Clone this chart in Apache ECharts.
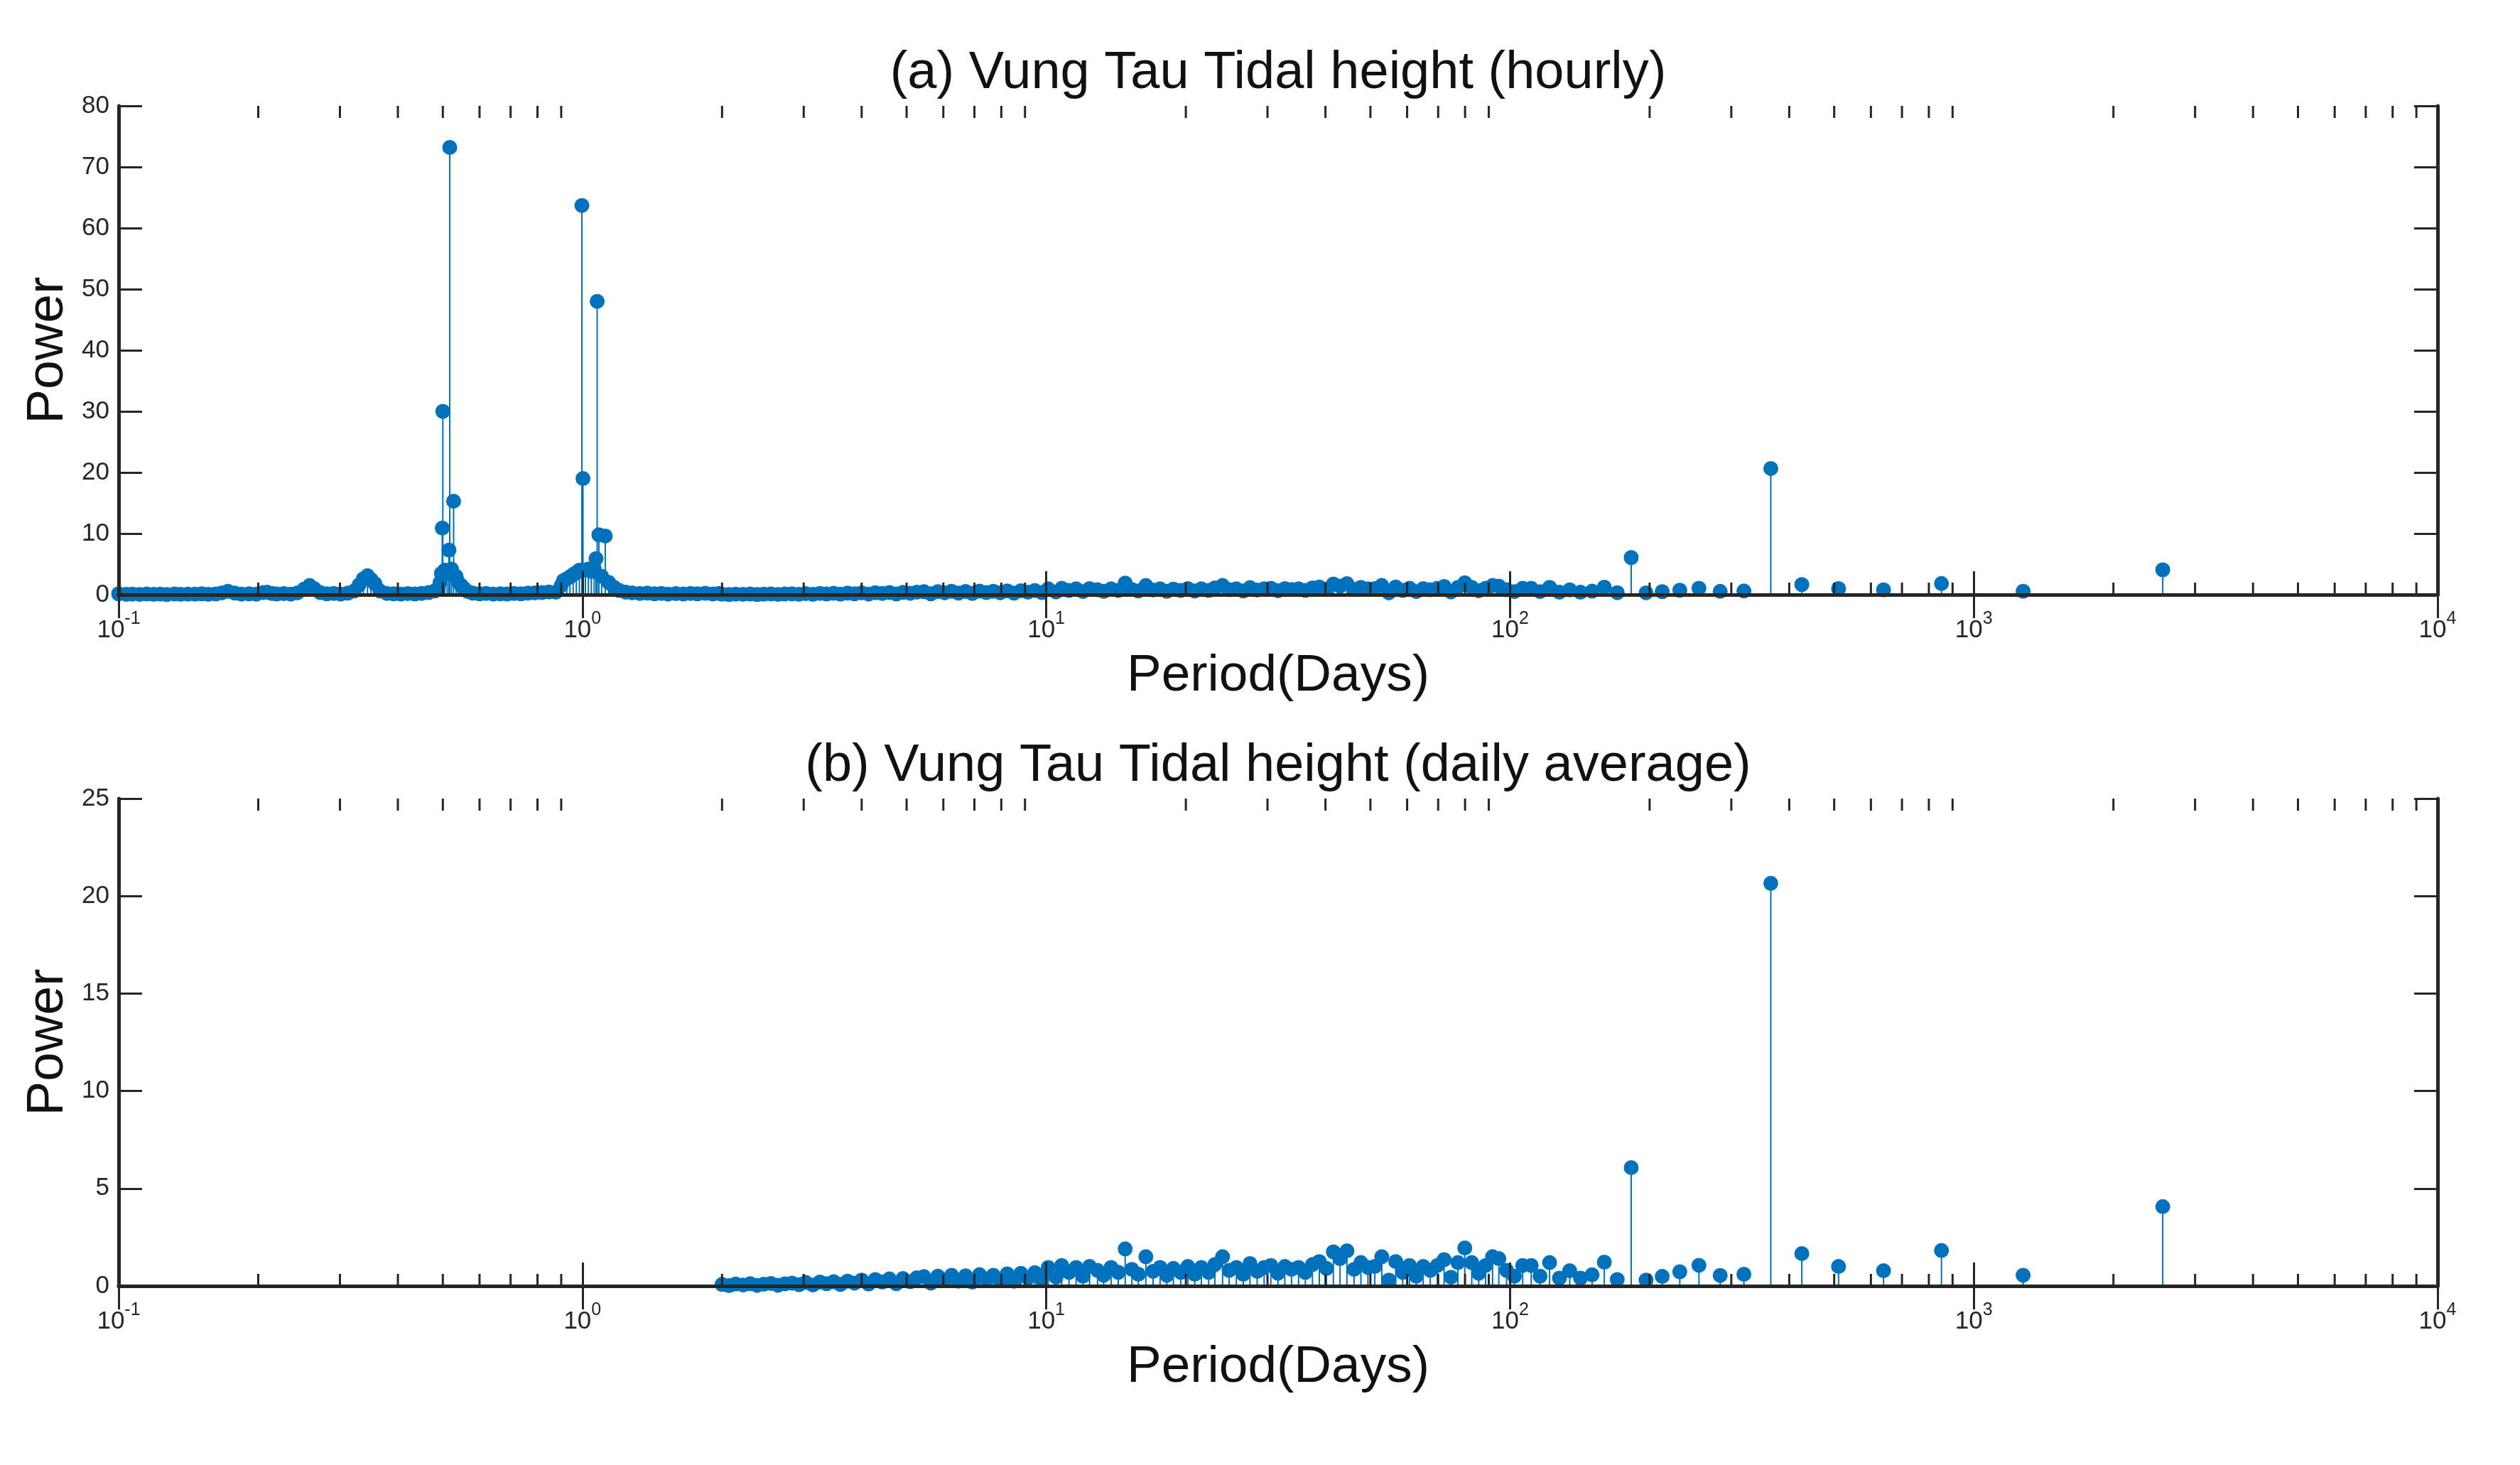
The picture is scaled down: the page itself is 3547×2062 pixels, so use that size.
<!DOCTYPE html>
<html>
<head>
<meta charset="utf-8">
<title>Vung Tau Tidal height periodogram</title>
<script src="https://cdn.jsdelivr.net/npm/echarts@6/dist/echarts.min.js"></script>
<style>
html, body { margin: 0; padding: 0; background: #fff; }
#chart { width: 3547px; height: 2062px; }
</style>
</head>
<body>
<div id="chart"></div>
<script>
// periods in days, power
// short periods, only in the hourly record
const hourlyPeriod = [
  0.100, 0.104, 0.107, 0.111, 0.115, 0.119, 0.123, 0.127, 0.132, 0.136,
  0.141, 0.146, 0.151, 0.156, 0.162, 0.167, 0.172, 0.178, 0.184, 0.191,
  0.198, 0.205, 0.209, 0.214, 0.219, 0.227, 0.235, 0.243, 0.251, 0.258,
  0.264, 0.272, 0.281, 0.291, 0.301, 0.312, 0.322, 0.330, 0.337, 0.344,
  0.350, 0.357, 0.366, 0.379, 0.392, 0.406, 0.420, 0.435, 0.450, 0.466,
  0.480, 0.489, 0.493, 0.4965, 0.4986, 0.500, 0.505, 0.511, 0.5155, 0.5175,
  0.522, 0.5275, 0.534, 0.540, 0.548, 0.556, 0.566, 0.580, 0.600, 0.620,
  0.642, 0.665, 0.688, 0.712, 0.737, 0.763, 0.790, 0.818, 0.846, 0.876,
  0.900, 0.910, 0.925, 0.940, 0.955, 0.970, 0.985, 0.9973, 1.0027, 1.015,
  1.030, 1.045, 1.060, 1.070, 1.0758, 1.085, 1.100, 1.120, 1.140, 1.170,
  1.200, 1.240, 1.280, 1.330, 1.380, 1.430, 1.480, 1.530, 1.590, 1.650,
  1.710, 1.770, 1.840, 1.910, 1.970
];
const hourlyPower = [
  0.15, 0.05, 0.10, 0.04, 0.12, 0.06, 0.10, 0.03, 0.12, 0.05,
  0.10, 0.08, 0.15, 0.05, 0.12, 0.30, 0.55, 0.25, 0.10, 0.15,
  0.08, 0.35, 0.40, 0.20, 0.12, 0.18, 0.10, 0.30, 0.90, 1.50,
  1.00, 0.35, 0.15, 0.20, 0.10, 0.25, 0.60, 1.60, 2.60, 3.10,
  2.50, 1.80, 0.60, 0.20, 0.15, 0.10, 0.18, 0.12, 0.20, 0.35,
  0.60, 1.00, 2.00, 3.50, 10.9, 30.0, 4.00, 3.50, 7.30, 73.2,
  4.20, 15.3, 3.00, 2.00, 1.50, 1.00, 0.50, 0.25, 0.15, 0.20,
  0.10, 0.15, 0.12, 0.20, 0.15, 0.25, 0.30, 0.35, 0.45, 0.40,
  1.50, 2.30, 2.60, 2.90, 3.30, 3.60, 4.00, 63.7, 19.0, 4.00,
  4.20, 3.80, 4.30, 5.90, 48.0, 9.80, 3.00, 9.60, 2.00, 1.20,
  0.70, 0.40, 0.30, 0.20, 0.25, 0.15, 0.20, 0.10, 0.18, 0.12,
  0.20, 0.15, 0.22, 0.12, 0.20
];

// 2 days and longer, same in both panels
const dailyPeriod = [
  2.00, 2.07, 2.14, 2.22, 2.30, 2.38, 2.46, 2.55, 2.64, 2.73, 2.83, 2.93,
  3.03, 3.14, 3.25, 3.36, 3.48, 3.60, 3.73, 3.86,
  4.00, 4.14, 4.28, 4.43, 4.59, 4.75, 4.91,
  5.09, 5.26, 5.45, 5.64, 5.84, 6.04, 6.25, 6.47,
  6.70, 6.93, 7.18, 7.43, 7.69,
  7.96, 8.24, 8.52, 8.82, 9.13, 9.45, 9.78,
  10.1, 10.5, 10.8, 11.2, 11.6, 12.0, 12.4, 12.9, 13.3, 13.8,
  14.3, 14.8, 15.3, 15.8, 16.4, 17.0, 17.6, 18.2, 18.8, 19.5, 20.2, 20.9,
  21.6, 22.4, 23.1, 24.0, 24.8, 25.7, 26.6, 27.5, 28.5, 29.5, 30.5, 31.6, 32.7, 33.8,
  35.0, 36.2, 37.5, 38.8, 40.2, 41.6, 43.0, 44.5, 46.1, 47.7, 49.4,
  51.1, 52.9, 54.8, 56.7, 58.7, 60.7, 62.8, 65.0,
  67.3, 69.7, 72.1, 74.6, 77.2, 79.9, 82.7, 85.6, 88.6, 91.7,
  94.6, 98.3, 102.2, 106.5, 111.1, 116.1, 121.7, 127.8, 134.5, 141.9,
  150.3, 159.7, 170.3, 182.5, 196.5, 212.9, 232.3, 255.5, 283.9, 319.4,
  365.0, 425.8, 511.0, 638.8, 851.7, 1277.5, 2555.0
];
const dailyPower = [
  0.08, 0.02, 0.10, 0.05, 0.12, 0.03, 0.09, 0.13, 0.04, 0.11, 0.15, 0.06,
  0.18, 0.05, 0.20, 0.12, 0.22, 0.08, 0.25, 0.15,
  0.30, 0.10, 0.33, 0.20, 0.36, 0.12, 0.38,
  0.22, 0.42, 0.48, 0.15, 0.50, 0.30, 0.55, 0.25,
  0.52, 0.20, 0.58, 0.35, 0.55,
  0.30, 0.62, 0.25, 0.65, 0.40, 0.68, 0.35,
  0.95, 0.45, 1.05, 0.70, 0.95, 0.50, 1.00, 0.80, 0.55, 0.95,
  0.70, 1.90, 0.85, 0.60, 1.50, 0.75, 0.95, 0.55, 0.90, 0.70, 1.00, 0.60,
  0.95, 0.70, 1.10, 1.50, 0.80, 0.95, 0.60, 1.15, 0.75, 0.95, 1.05, 0.65, 1.00, 0.85,
  0.95, 0.70, 1.10, 1.25, 0.90, 1.75, 1.40, 1.80, 0.85, 1.20, 0.95,
  1.00, 1.50, 0.30, 1.25, 0.70, 1.05, 0.50, 1.00,
  0.80, 1.05, 1.35, 0.45, 1.20, 1.95, 1.20, 0.65, 1.05, 1.50,
  1.40, 0.80, 0.50, 1.05, 1.05, 0.50, 1.20, 0.40, 0.78, 0.40,
  0.57, 1.22, 0.33, 6.07, 0.30, 0.49, 0.73, 1.06, 0.54, 0.60,
  20.65, 1.66, 1.00, 0.78, 1.82, 0.55, 4.07
];

const xTicks = [0.1, 1, 10, 100, 1000, 10000];
const yMaxA = 80, yStepA = 10;
const yMaxB = 25, yStepB = 5;

const BLUE = '#0072BD';
const INK = '#262626';
const FONT = 'Liberation Sans';

const hourlyData = hourlyPeriod.map((p, i) => [p, hourlyPower[i]])
  .concat(dailyPeriod.map((p, i) => [p, dailyPower[i]]));
const dailyData = dailyPeriod.map((p, i) => [p, dailyPower[i]]);

// minor ticks 2..9 in every decade
const minorTicks = [];
xTicks.slice(0, -1).forEach(d => {
  for (let m = 2; m <= 9; m++) minorTicks.push([+(m * d).toPrecision(3), 0]);
});

function stemItem(params, api) {
  const base = api.coord([api.value(0), 0]);
  const tip = api.coord([api.value(0), api.value(1)]);
  return {
    type: 'line',
    shape: { x1: base[0], y1: base[1], x2: tip[0], y2: tip[1] },
    style: { stroke: BLUE, lineWidth: 2 }
  };
}

function minorTickItem(yMax) {
  return function (params, api) {
    const b = api.coord([api.value(0), 0]);
    const t = api.coord([api.value(0), yMax]);
    return {
      type: 'group',
      children: [
        { type: 'line', shape: { x1: b[0], y1: b[1], x2: b[0], y2: b[1] - 17 }, style: { stroke: INK, lineWidth: 3 } },
        { type: 'line', shape: { x1: t[0], y1: t[1], x2: t[0], y2: t[1] + 17 }, style: { stroke: INK, lineWidth: 3 } }
      ]
    };
  };
}

function xBottom(gridIndex) {
  return {
    gridIndex: gridIndex,
    type: 'log',
    logBase: 10,
    min: xTicks[0],
    max: xTicks[xTicks.length - 1],
    position: 'bottom',
    z: 5,
    name: 'Period(Days)',
    nameLocation: 'middle',
    nameGap: 78,
    nameTextStyle: { fontSize: 73, color: '#111', fontFamily: FONT },
    axisLine: { lineStyle: { color: INK, width: 5 } },
    axisTick: { inside: true, length: 33, lineStyle: { color: INK, width: 3 } },
    axisLabel: {
      margin: 22,
      formatter: v => '{b|10}{e|' + Math.round(Math.log10(v)) + '}',
      rich: {
        b: { fontSize: 35, lineHeight: 46, verticalAlign: 'bottom', color: INK, fontFamily: FONT },
        e: { fontSize: 25, lineHeight: 25, verticalAlign: 'top', color: INK, fontFamily: FONT }
      }
    },
    splitLine: { show: false }
  };
}

function xTop(gridIndex, title) {
  return {
    gridIndex: gridIndex,
    type: 'log',
    logBase: 10,
    min: xTicks[0],
    max: xTicks[xTicks.length - 1],
    position: 'top',
    z: 5,
    name: title,
    nameLocation: 'middle',
    nameGap: 8,
    nameTextStyle: { fontSize: 74, color: '#111', fontFamily: FONT, verticalAlign: 'bottom' },
    axisLine: { lineStyle: { color: INK, width: 5 } },
    axisTick: { inside: true, length: 33, lineStyle: { color: INK, width: 3 } },
    axisLabel: { show: false },
    splitLine: { show: false }
  };
}

function yLeft(gridIndex, max, step) {
  return {
    gridIndex: gridIndex,
    type: 'value',
    min: 0,
    max: max,
    interval: step,
    position: 'left',
    z: 5,
    name: 'Power',
    nameLocation: 'middle',
    nameGap: 62,
    nameTextStyle: { fontSize: 73, color: '#111', fontFamily: FONT },
    axisLine: { show: true, lineStyle: { color: INK, width: 5 } },
    axisTick: { show: true, inside: true, length: 33, lineStyle: { color: INK, width: 3 } },
    axisLabel: { margin: 13, fontSize: 35, color: INK, fontFamily: FONT },
    splitLine: { show: false }
  };
}

function yRight(gridIndex, max, step) {
  return {
    gridIndex: gridIndex,
    type: 'value',
    min: 0,
    max: max,
    interval: step,
    position: 'right',
    z: 5,
    axisLine: { show: true, lineStyle: { color: INK, width: 5 } },
    axisTick: { show: true, inside: true, length: 33, lineStyle: { color: INK, width: 3 } },
    axisLabel: { show: false },
    splitLine: { show: false }
  };
}

const option = {
  backgroundColor: '#fff',
  animation: false,
  grid: [
    { left: 167, top: 149, width: 3264, height: 688 },
    { left: 167, top: 1124, width: 3264, height: 686 }
  ],
  xAxis: [
    xBottom(0),
    xTop(0, '(a) Vung Tau Tidal height (hourly)'),
    xBottom(1),
    xTop(1, '(b) Vung Tau Tidal height (daily average)')
  ],
  yAxis: [
    yLeft(0, yMaxA, yStepA),
    yRight(0, yMaxA, yStepA),
    yLeft(1, yMaxB, yStepB),
    yRight(1, yMaxB, yStepB)
  ],
  series: [
    {
      type: 'custom', xAxisIndex: 0, yAxisIndex: 0, silent: true,
      renderItem: stemItem, data: hourlyData, z: 2
    },
    {
      type: 'scatter', xAxisIndex: 0, yAxisIndex: 0, silent: true,
      symbol: 'circle', symbolSize: 21, itemStyle: { color: BLUE, opacity: 1 },
      data: hourlyData, z: 3
    },
    {
      type: 'custom', xAxisIndex: 0, yAxisIndex: 0, silent: true,
      renderItem: minorTickItem(yMaxA), data: minorTicks, z: 6
    },
    {
      type: 'custom', xAxisIndex: 2, yAxisIndex: 2, silent: true,
      renderItem: stemItem, data: dailyData, z: 2
    },
    {
      type: 'scatter', xAxisIndex: 2, yAxisIndex: 2, silent: true,
      symbol: 'circle', symbolSize: 21, itemStyle: { color: BLUE, opacity: 1 },
      data: dailyData, z: 3
    },
    {
      type: 'custom', xAxisIndex: 2, yAxisIndex: 2, silent: true,
      renderItem: minorTickItem(yMaxB), data: minorTicks, z: 6
    }
  ]
};

const chart = echarts.init(document.getElementById('chart'));
chart.setOption(option);
</script>
</body>
</html>
